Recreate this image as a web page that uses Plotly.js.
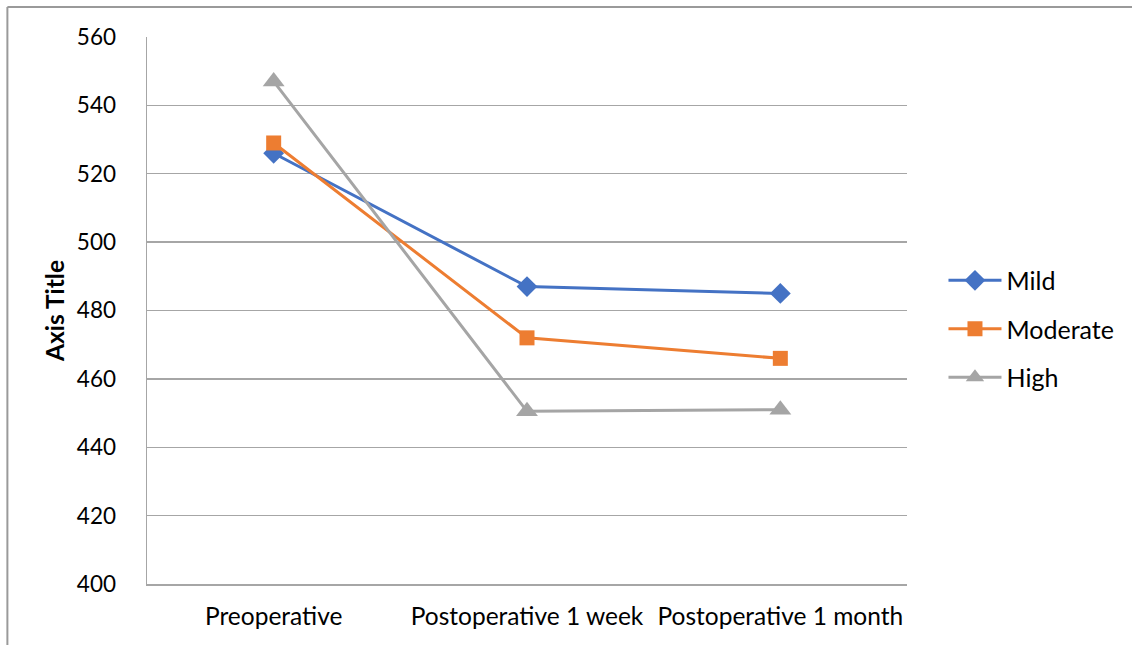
<!DOCTYPE html>
<html>
<head>
<meta charset="utf-8">
<script src="https://cdn.plot.ly/plotly-3.0.1.min.js"></script>
<style>
html,body{margin:0;padding:0;background:#fff;}
#chart{width:1132px;height:645px;}
</style>
</head>
<body>
<div id="chart"></div>
<script>
const categories = ["Preoperative", "Postoperative 1 week", "Postoperative 1 month"];
const seriesNames = ["Mild", "Moderate", "High"];
const mild = [526, 487, 485];
const moderate = [529, 472, 466];
const high = [547, 450.5, 451];
const yTicks = [400, 420, 440, 460, 480, 500, 520, 540, 560];

const FONT = "Lato, 'Open Sans', sans-serif";
const colors = ["#4472C4", "#ED7D31", "#A5A5A5"];
const symbols = ["diamond", "square", "triangle-up"];
const sizes = [16, 15, 19];
const values = [mild, moderate, high];

const traces = values.map((v, i) => ({
  type: "scatter",
  mode: "lines+markers",
  x: categories,
  y: v,
  name: seriesNames[i],
  legendgroup: "g" + i,
  line: {color: colors[i], width: 3},
  marker: {color: colors[i], symbol: symbols[i], size: sizes[i]}
}));

const layout = {
  width: 1132,
  height: 645,
  margin: {l: 147, r: 222, t: 37, b: 61},
  paper_bgcolor: "#ffffff",
  plot_bgcolor: "#ffffff",
  font: {family: FONT, size: 22, color: "#000"},
  showlegend: true,
  legend: {
    x: 1.048, xanchor: "left",
    y: 0.466, yanchor: "middle",
    traceorder: "grouped",
    tracegroupgap: 13,
    itemwidth: 53,
    font: {family: FONT, size: 25, color: "#000"},
    bgcolor: "rgba(0,0,0,0)"
  },
  xaxis: {
    type: "category",
    range: [-0.5, 2.5],
    showgrid: false,
    showline: true,
    linecolor: "#a6a6a6",
    linewidth: 1.5,
    ticks: "",
    ticklabelstandoff: 10,
    tickfont: {family: FONT, size: 24.5, color: "#000"},
    zeroline: false
  },
  yaxis: {
    range: [400, 560],
    tickvals: yTicks,
    ticktext: yTicks.map(String),
    showgrid: true,
    gridcolor: "#a6a6a6",
    gridwidth: 1.3,
    showline: true,
    linecolor: "#a6a6a6",
    linewidth: 1.5,
    ticks: "",
    ticklabelstandoff: 25,
    tickfont: {family: FONT, size: 22.5, color: "#000"},
    zeroline: false,
    title: {text: "<b>Axis Title</b>", font: {family: FONT, size: 24.5, color: "#000"}, standoff: 5}
  },
  shapes: [
    {type: "line", xref: "paper", yref: "paper", x0: -0.1837, x1: 1.31, y0: 1.0548, y1: 1.0548,
     line: {color: "#9a9a9a", width: 2}},
    {type: "line", xref: "paper", yref: "paper", x0: -0.1837, x1: -0.1837, y0: 1.0548, y1: -0.13,
     line: {color: "#9a9a9a", width: 2}}
  ]
};

Plotly.newPlot("chart", traces, layout, {displayModeBar: false, staticPlot: true});
</script>
</body>
</html>
